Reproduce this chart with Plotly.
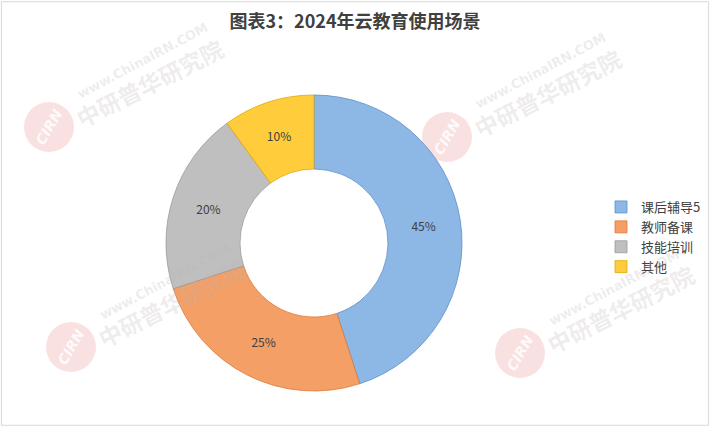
import plotly.graph_objects as go

categories = ["课后辅导5", "教师备课", "技能培训", "其他"]
values = [45, 25, 20, 10]
colors = ["#8db7e4", "#f39f66", "#bfbfbf", "#ffcd3c"]
edge_colors = ["#5b8fc9", "#e07a3a", "#9a9a9a", "#e0a800"]

W, H = 710, 427
cx, cy, r = 314, 243, 148

fig = go.Figure()
fig.add_trace(go.Pie(
    labels=categories,
    values=values,
    hole=0.5,
    sort=False,
    direction="clockwise",
    rotation=0,
    marker=dict(colors=colors, line=dict(color=edge_colors, width=0.8)),
    texttemplate="%{percent:.0%}",
    textposition="inside",
    insidetextorientation="horizontal",
    textfont=dict(family="Noto Sans CJK SC", size=12, color="#404040"),
    domain=dict(x=[(cx - r) / W, (cx + r) / W], y=[1 - (cy + r) / H, 1 - (cy - r) / H]),
    showlegend=True,
))

# faint watermarks: (circle centre x, y)
wm = [(49, 127), (447, 137), (71, 347), (520, 353)]
annotations = []
shapes = []
for (x, y) in wm:
    rr = 25
    shapes.append(dict(type="circle", xref="paper", yref="paper", layer="below",
                       x0=(x - rr) / W, x1=(x + rr) / W, y0=1 - (y + rr) / H, y1=1 - (y - rr) / H,
                       fillcolor="rgba(240,170,170,0.35)", line=dict(width=0)))
    annotations.append(dict(
        x=x / W, y=1 - y / H, xref="paper", yref="paper", xanchor="center", yanchor="middle",
        text="<b><i>CIRN</i></b>", showarrow=False, textangle=-60,
        font=dict(family="DejaVu Sans", size=14, color="rgba(255,255,255,0.85)"),
    ))
    annotations.append(dict(
        x=(x + 100) / W, y=1 - (y - 44) / H, xref="paper", yref="paper",
        xanchor="center", yanchor="middle",
        text="<b>中研普华研究院</b>", showarrow=False, textangle=-27,
        font=dict(family="Noto Sans CJK SC", size=23, color="rgba(190,180,180,0.25)"),
    ))
    annotations.append(dict(
        x=(x + 94) / W, y=1 - (y - 66) / H, xref="paper", yref="paper",
        xanchor="center", yanchor="middle",
        text="<b>www.ChinaIRN.COM</b>", showarrow=False, textangle=-28,
        font=dict(family="DejaVu Sans", size=13, color="rgba(190,180,180,0.25)"),
    ))

shapes.append(dict(type="rect", xref="paper", yref="paper", x0=0.002, y0=0.004, x1=0.998, y1=0.996,
                   line=dict(color="#d9d9d9", width=1)))

fig.update_layout(
    width=W, height=H,
    margin=dict(l=0, r=0, t=0, b=0),
    paper_bgcolor="white",
    plot_bgcolor="white",
    title=dict(
        text="<b>图表3：2024年云教育使用场景</b>",
        x=355 / W, xanchor="center", y=1 - 22 / H, yanchor="middle",
        font=dict(family="Noto Sans CJK SC", size=18, color="#404040"),
    ),
    legend=dict(
        x=601 / W, xanchor="left", y=1 - 237 / H, yanchor="middle",
        font=dict(family="Noto Sans CJK SC", size=13, color="#404040"),
        itemwidth=30, tracegroupgap=0,
        bgcolor="rgba(0,0,0,0)",
    ),
    annotations=annotations,
    shapes=shapes,
)

fig.write_html("out.html", config={"displayModeBar": False},
               post_script="document.body.style.margin='0';")
